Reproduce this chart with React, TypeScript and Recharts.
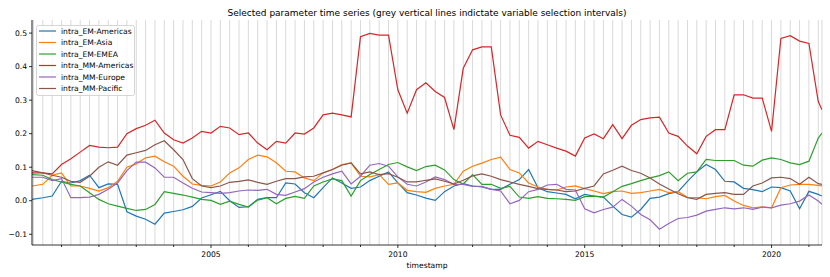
import React from "react";
import { LineChart, Line, XAxis, YAxis, CartesianGrid } from "recharts";

const W = 830;
const H = 277;
const FONT = "'DejaVu Sans', sans-serif";

// first sample, quarterly samples, last sample (decimal years)
const timestamps = [2000.21, ...Array.from({ length: 84 }, (_, k) => 2000.5 + 0.25 * k), 2021.35];
// grey selection-interval lines, one per quarter
const intervalTicks = Array.from({ length: 85 }, (_, k) => 2000.25 + 0.25 * k);
const yTicks = [-0.1, 0, 0.1, 0.2, 0.3, 0.4, 0.5];

const emAmericas = [
  0.004, 0.009, 0.014, 0.058, 0.053, 0.060, 0.076, 0.039, 0.050, 0.049, -0.033, -0.046, -0.055, -0.070,
  -0.037, -0.032, -0.027, -0.017, 0.008, 0.018, 0.028, 0.000, -0.020, -0.018, 0.004, 0.009, 0.009, 0.053,
  0.050, 0.024, 0.009, 0.039, 0.068, 0.053, 0.037, 0.041, 0.060, 0.073, 0.086, 0.053, 0.024, 0.017,
  0.008, 0.001, 0.027, 0.044, 0.051, 0.044, 0.041, 0.034, 0.034, 0.049, 0.063, 0.093, 0.039, 0.027,
  0.023, 0.019, 0.006, 0.019, 0.014, 0.011, -0.016, -0.041, -0.049, -0.026, 0.007, 0.011, 0.021, 0.027,
  0.058, 0.086, 0.108, 0.093, 0.058, 0.056, 0.037, 0.033, 0.027, 0.041, 0.039, 0.029, -0.024, 0.028, 0.019,
  0.014,
];
const emAsia = [
  0.044, 0.049, 0.076, 0.083, 0.044, 0.044, 0.037, 0.029, 0.039, 0.058, 0.100, 0.110, 0.128, 0.133,
  0.116, 0.103, 0.073, 0.050, 0.046, 0.044, 0.056, 0.083, 0.098, 0.123, 0.136, 0.131, 0.113, 0.088,
  0.086, 0.068, 0.060, 0.083, 0.093, 0.108, 0.113, 0.073, 0.071, 0.078, 0.049, 0.053, 0.031, 0.027,
  0.025, 0.037, 0.044, 0.049, 0.088, 0.103, 0.112, 0.123, 0.130, 0.093, 0.083, 0.053, 0.041, 0.034,
  0.032, 0.041, 0.044, 0.036, 0.029, 0.021, 0.027, 0.029, 0.022, 0.024, 0.029, 0.034, 0.024, 0.027,
  0.010, 0.009, 0.006, 0.012, 0.016, -0.001, -0.014, -0.021, -0.018, -0.021, 0.039, 0.047, 0.049, 0.049, 0.046,
  0.044,
];
const emEmea = [
  0.078, 0.076, 0.063, 0.056, 0.049, 0.044, 0.024, 0.004, -0.009, -0.016, -0.023, -0.029, -0.026, -0.011,
  0.027, 0.022, 0.017, 0.011, 0.004, 0.001, -0.011, -0.001, -0.011, -0.019, 0.002, 0.009, -0.009, 0.007,
  0.013, 0.007, 0.044, 0.056, 0.065, 0.060, 0.014, 0.060, 0.078, 0.093, 0.108, 0.114, 0.101, 0.090,
  0.102, 0.106, 0.092, 0.063, 0.050, 0.078, 0.049, 0.049, 0.037, 0.043, 0.011, 0.007, 0.012, 0.007,
  0.006, 0.004, 0.001, 0.012, 0.014, 0.011, 0.027, 0.043, 0.051, 0.060, 0.068, 0.075, 0.086, 0.060,
  0.082, 0.086, 0.123, 0.120, 0.120, 0.120, 0.106, 0.103, 0.121, 0.128, 0.123, 0.113, 0.108, 0.118, 0.187,
  0.202,
];
const mmAmericas = [
  0.083, 0.083, 0.080, 0.108, 0.125, 0.145, 0.165, 0.160, 0.158, 0.160, 0.200, 0.215, 0.225, 0.240,
  0.202, 0.182, 0.172, 0.187, 0.207, 0.202, 0.222, 0.217, 0.197, 0.202, 0.172, 0.152, 0.177, 0.172,
  0.202, 0.199, 0.217, 0.256, 0.261, 0.256, 0.250, 0.489, 0.499, 0.494, 0.494, 0.331, 0.261, 0.331,
  0.352, 0.326, 0.308, 0.212, 0.395, 0.450, 0.459, 0.459, 0.256, 0.195, 0.189, 0.157, 0.177, 0.167,
  0.157, 0.148, 0.133, 0.187, 0.199, 0.185, 0.227, 0.185, 0.225, 0.242, 0.247, 0.249, 0.202, 0.192,
  0.163, 0.140, 0.192, 0.212, 0.212, 0.316, 0.316, 0.306, 0.306, 0.207, 0.484, 0.492, 0.476, 0.469, 0.296,
  0.271,
];
const mmEurope = [
  0.070, 0.070, 0.060, 0.066, 0.009, 0.009, 0.011, 0.019, 0.034, 0.053, 0.090, 0.115, 0.115, 0.098,
  0.070, 0.070, 0.053, 0.037, 0.026, 0.024, 0.022, 0.024, 0.029, 0.032, 0.031, 0.034, 0.019, 0.016,
  0.026, 0.036, 0.056, 0.070, 0.080, 0.088, 0.050, 0.073, 0.106, 0.111, 0.103, 0.071, 0.049, 0.044,
  0.056, 0.071, 0.063, 0.049, 0.049, 0.043, 0.043, 0.034, 0.029, -0.009, 0.001, 0.027, 0.034, 0.047,
  0.049, 0.034, 0.032, -0.024, -0.036, -0.026, -0.019, 0.004, -0.016, -0.041, -0.057, -0.085, -0.068, -0.053,
  -0.050, -0.043, -0.031, -0.026, -0.021, -0.024, -0.021, -0.026, -0.019, -0.021, -0.013, -0.009, -0.001, 0.017, -0.001,
  -0.011,
];
const mmPacific = [
  0.090, 0.083, 0.076, 0.070, 0.058, 0.055, 0.073, 0.100, 0.116, 0.106, 0.136, 0.143, 0.150, 0.167,
  0.179, 0.152, 0.123, 0.066, 0.044, 0.039, 0.044, 0.055, 0.058, 0.062, 0.055, 0.049, 0.058, 0.066,
  0.066, 0.071, 0.073, 0.083, 0.093, 0.106, 0.113, 0.080, 0.086, 0.078, 0.081, 0.070, 0.056, 0.056,
  0.061, 0.065, 0.058, 0.050, 0.061, 0.074, 0.080, 0.073, 0.063, 0.056, 0.049, 0.043, 0.036, 0.034,
  0.032, 0.027, 0.029, 0.037, 0.044, 0.080, 0.091, 0.103, 0.090, 0.082, 0.068, 0.050, 0.035, 0.021,
  0.009, 0.004, 0.019, 0.022, 0.024, 0.019, 0.019, 0.044, 0.053, 0.068, 0.070, 0.066, 0.049, 0.070, 0.051,
  0.049,
];

const series = [
  { key: "intra_EM-Americas", values: emAmericas, color: "#1f77b4" },
  { key: "intra_EM-Asia", values: emAsia, color: "#ff7f0e" },
  { key: "intra_EM-EMEA", values: emEmea, color: "#2ca02c" },
  { key: "intra_MM-Americas", values: mmAmericas, color: "#d62728" },
  { key: "intra_MM-Europe", values: mmEurope, color: "#9467bd" },
  { key: "intra_MM-Pacific", values: mmPacific, color: "#8c564b" },
];

const data = timestamps.map((t, i) => {
  const row: Record<string, number> = { t };
  series.forEach((s) => (row[s.key] = s.values[i]));
  return row;
});

const X_DOMAIN: [number, number] = [2000.21, 2021.35];
const Y_DOMAIN: [number, number] = [-0.132, 0.539];

const fmtY = (v: number) => (v < 0 ? "\u2212" : "") + Math.abs(v).toFixed(1);

const renderXTick = (props: any) => {
  const { x, y, payload } = props;
  const v = payload.value as number;
  if (Math.abs(v - Math.round(v)) > 1e-6) return <g />;
  const year = Math.round(v);
  const major = year % 5 === 0;
  return (
    <g>
      <line x1={x} x2={x} y1={y} y2={y + (major ? 3 : 2)} stroke="#000" strokeWidth={0.8} />
      {major && (
        <text x={x} y={y + 11.5} textAnchor="middle" fontSize={7.6} fontFamily={FONT} fill="#000">
          {year}
        </text>
      )}
    </g>
  );
};

const Overlay = () => (
  <svg width={W} height={H} style={{ position: "absolute", left: 0, top: 0, pointerEvents: "none" }}>
    <text x={427} y={15.5} textAnchor="middle" fontSize={9} fontFamily={FONT} fill="#000">
      Selected parameter time series (grey vertical lines indictate variable selection intervals)
    </text>
    <g transform="translate(36,25)">
      <rect x={0.5} y={0.5} width={98} height={70} rx={2} fill="rgba(255,255,255,0.8)" stroke="#cccccc" strokeWidth={0.8} />
      {series.map((s, i) => (
        <g key={s.key} transform={`translate(0,${6 + i * 11.5})`}>
          <line x1={3} x2={20} y1={0} y2={0} stroke={s.color} strokeWidth={1.2} />
          <text x={25} y={2.7} fontSize={7.6} fontFamily={FONT} fill="#000">
            {s.key}
          </text>
        </g>
      ))}
    </g>
  </svg>
);

export default function App() {
  return (
    <div style={{ position: "relative", width: W, height: H, background: "#fff" }}>
      <style>{"body{margin:0}"}</style>
      <LineChart width={W} height={H} data={data} margin={{ top: 20, right: 8, bottom: 0, left: 0 }}>
        <CartesianGrid horizontal={false} stroke="#d9d9d9" strokeWidth={1} />
        <XAxis
          dataKey="t"
          type="number"
          domain={X_DOMAIN}
          allowDataOverflow
          ticks={intervalTicks}
          interval={0}
          tick={renderXTick}
          tickLine={false}
          tickSize={0}
          tickMargin={0}
          height={32}
          axisLine={{ stroke: "#000", strokeWidth: 0.8 }}
          label={{ value: "timestamp", position: "insideBottom", offset: 9, fontSize: 7.6, fontFamily: FONT, fill: "#000" }}
        />
        <XAxis
          xAxisId="top"
          orientation="top"
          type="number"
          domain={X_DOMAIN}
          allowDataOverflow
          height={0}
          tick={false}
          tickLine={false}
          axisLine={{ stroke: "#000", strokeWidth: 0.8 }}
        />
        <YAxis
          type="number"
          domain={Y_DOMAIN}
          allowDataOverflow
          ticks={yTicks}
          tickFormatter={fmtY}
          width={32}
          tickSize={3}
          tickMargin={2}
          tick={{ fontSize: 7.6, fontFamily: FONT, fill: "#000" }}
          tickLine={{ stroke: "#000", strokeWidth: 0.8 }}
          axisLine={{ stroke: "#000", strokeWidth: 0.8 }}
        />
        <YAxis
          yAxisId="right"
          orientation="right"
          type="number"
          domain={Y_DOMAIN}
          allowDataOverflow
          width={0}
          tick={false}
          tickLine={false}
          axisLine={{ stroke: "#000", strokeWidth: 0.8 }}
        />
        {series.map((s) => (
          <Line
            key={s.key}
            dataKey={s.key}
            type="linear"
            stroke={s.color}
            strokeWidth={1.2}
            dot={false}
            isAnimationActive={false}
          />
        ))}
      </LineChart>
      <Overlay />
    </div>
  );
}
